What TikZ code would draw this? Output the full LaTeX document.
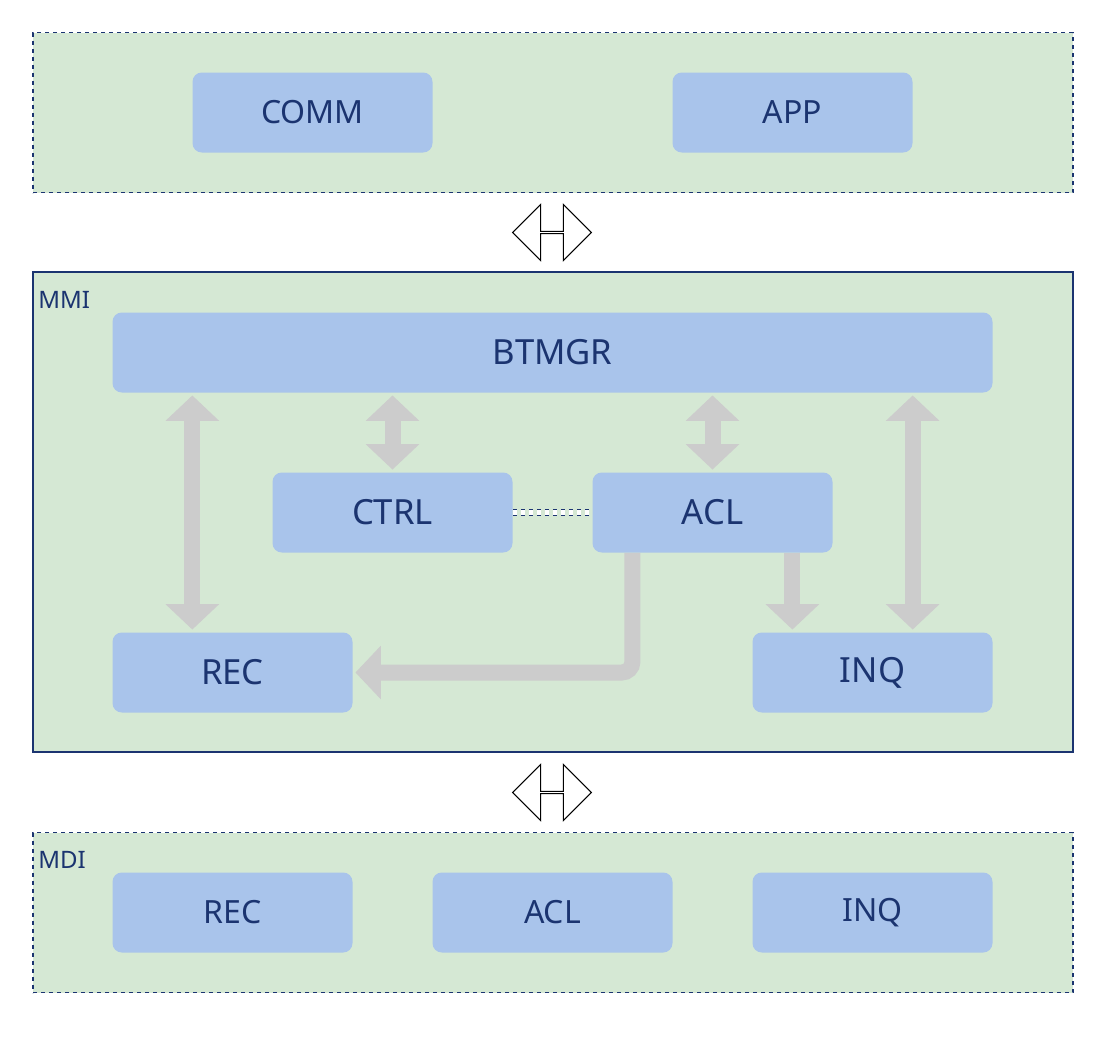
\documentclass[tikz,border=0pt]{standalone}
\usepackage{fontspec}
\setmainfont{Noto Sans}
\usetikzlibrary{positioning,calc,arrows.meta,shapes.arrows}
\definecolor{boxfill}{HTML}{A9C4EB}
\definecolor{layerfill}{HTML}{D5E8D4}
\definecolor{navy}{HTML}{1B3470}
\definecolor{pipe}{HTML}{CCCCCC}
\tikzset{
  layer/.style={draw=navy, fill=layerfill, line width=1pt, minimum width=780pt},
  module/.style={fill=boxfill, rounded corners=7pt, minimum width=180pt, minimum height=60pt,
    text=navy, font=\fontsize{24}{28}\selectfont},
  core/.style={module, font=\fontsize{26}{30}\selectfont\bfseries},
  tag/.style={text=navy, font=\fontsize{18}{22}\selectfont\bfseries, anchor=north west, inner sep=0pt},
  pipe/.style={draw=pipe, line width=12pt, -{Triangle[width=39pt,length=19pt]}},
  pipes/.style={pipe, {Triangle[width=39pt,length=19pt]}-{Triangle[width=39pt,length=19pt]}},
  link/.style={draw=black, fill=white, line width=0.8pt, double arrow, shape border rotate=90,
    minimum height=59pt, minimum width=42pt, double arrow head extend=10pt, inner sep=0pt}
}
\begin{document}
\begin{tikzpicture}[x=0.75pt, y=-0.75pt]
  \useasboundingbox (0,0) rectangle (1106,1036);
  % layers
  \node[layer, dashed, minimum height=120pt] (top) at (553,112.5) {};
  \node[layer, minimum height=360pt] (mmi) at (553,512) {};
  \node[layer, dashed, minimum height=120pt] (mdi) at (553,912.5) {};
  \node[tag] at (38,291) {MMI};
  \node[tag] at (38,851) {MDI};
  % upper modules
  \node[module] (comm) at (312.5,112.5) {COMM};
  \node[module] (app) at (792.5,112.5) {APP};
  % MMI modules
  \node[core, minimum width=660pt] (btmgr) at (552.5,352.5) {BTMGR};
  \node[core] (ctrl) at (392.5,512.5) {CTRL};
  \node[core] (acl) at (712.5,512.5) {ACL};
  \node[core] (rec) at (232.5,672.5) {REC};
  \node[core] (inq) at (872.5,672.5) {INQ};
  % MDI modules
  \node[module] (mrec) at (232.5,912.5) {REC};
  \node[module] (macl) at (552.5,912.5) {ACL};
  \node[module] (minq) at (872.5,912.5) {INQ};
  % layer links
  \node[link, rotate=90] (up) at (552,232.5) {};
  \node[link, rotate=90] (down) at (552,792.5) {};
  % pipes
  \coordinate (p1) at ($(rec.north west)!.333!(rec.north east)$);
  \coordinate (p2) at ($(inq.north west)!.667!(inq.north east)$);
  \coordinate (p3) at ($(inq.north west)!.167!(inq.north east)$);
  \coordinate (p4) at ($(acl.south west)!.167!(acl.south east)$);
  \draw[pipes, shorten <=2pt, shorten >=2pt] (p1 |- btmgr.south) -- (p1);
  \draw[pipes, shorten <=2pt, shorten >=2pt] (p2 |- btmgr.south) -- (p2);
  \draw[pipes, shorten <=2pt, shorten >=2pt] (ctrl.north |- btmgr.south) -- (ctrl.north);
  \draw[pipes, shorten <=2pt, shorten >=2pt] (acl.north |- btmgr.south) -- (acl.north);
  \draw[pipe, shorten >=2pt] (p3 |- acl.south) -- (p3);
  \draw[pipe, rounded corners=8pt, shorten >=2pt] (p4) -- (p4 |- rec.east) -- (rec.east);
  % ctrl-acl
  \draw[navy, dashed, line width=0.8pt, double distance=4pt] (ctrl.east) -- (acl.west);
\end{tikzpicture}
\end{document}
